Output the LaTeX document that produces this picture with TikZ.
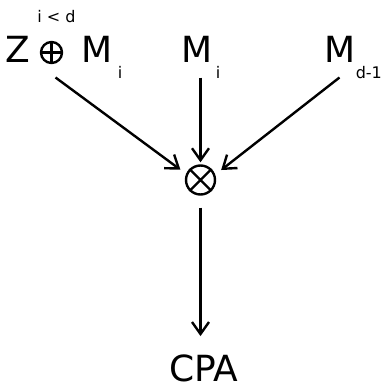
\documentclass[tikz,border=0pt]{standalone}
\usepackage{fontspec}
\setmainfont{DejaVu Sans}
\usetikzlibrary{arrows.meta}
\begin{document}
\begin{tikzpicture}[x=1pt,y=-1pt,
  big/.style={inner sep=0pt,font=\fontsize{36}{40}\selectfont},
  small/.style={inner sep=0pt,font=\fontsize{16}{18}\selectfont},
  sym/.style={circle,draw,line width=2.4pt,inner sep=0pt},
  arr/.style={line width=2.4pt,-{Straight Barb[length=12pt,width=17pt,line width=2.4pt]}}]
\useasboundingbox (0,0) rectangle (387,388);
% top labels
\node[big,anchor=base west] (z) at (5,62) {Z};
\node[sym,minimum size=21pt] (plus) at (51.5,52.5) {};
\draw[line width=2.4pt] (plus.north) -- (plus.south) (plus.west) -- (plus.east);
\node[small,anchor=base] (cond) at (56.5,22) {i < d};
\node[big,anchor=base west] (m1) at (81.5,62) {M\hspace{5pt}\raisebox{-16pt}{\fontsize{16}{18}\selectfont i}};
\node[big,anchor=base west] (m2) at (181.5,62) {M\hspace{3pt}\raisebox{-16pt}{\fontsize{16}{18}\selectfont i}};
\node[big,anchor=base west] (m3) at (324.5,62) {M\hspace{0pt}\raisebox{-16pt}{\fontsize{16}{18}\selectfont d-1}};
% otimes
\node[sym,minimum size=29pt] (x) at (200.5,180) {};
\draw[line width=2.4pt] (x.45) -- (x.225) (x.135) -- (x.315);
% result
\node[big,anchor=base] (cpa) at (204,381) {CPA};
% arrow start points
\coordinate (s1) at (55.5,77.5);
\coordinate (s2) at (200.5,77.5);
\coordinate (s3) at (339.5,77.5);
\draw[arr,shorten >=7pt] (s1) -- (x.157);
\draw[arr,shorten >=2pt] (s2) -- (x.north);
\draw[arr,shorten >=7.5pt] (s3) -- (x.20);
\draw[arr,shorten <=12pt,shorten >=18pt] (x) -- (x |- cpa.north);
\end{tikzpicture}
\end{document}
